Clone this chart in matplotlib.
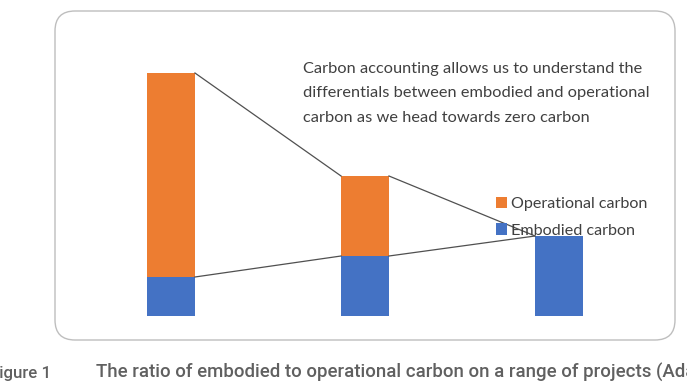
import matplotlib.pyplot as plt
from matplotlib.patches import FancyBboxPatch

projects = ['Project A', 'Project B', 'Project C']
embodied = [1.95, 3.0, 4.0]
operational = [10.2, 4.0, 0.0]
labels = ['Embodied carbon', 'Operational carbon']
note = ('Carbon accounting allows us to understand the\n'
        'differentials between embodied and operational\n'
        'carbon as we head towards zero carbon')
caption_no = 'Figure 1'
caption = 'The ratio of embodied to operational carbon on a range of projects (Adapted)'

blue = '#4472C4'
orange = '#ED7D31'
W, H = 687, 384

fig = plt.figure(figsize=(W / 100, H / 100), dpi=100)
fig.patch.set_facecolor('white')

# rounded frame of the chart, kept behind the axes
frame = FancyBboxPatch((0.55, (H - 340) / 100), 6.20, 3.29,
                       boxstyle='round,pad=0,rounding_size=0.2',
                       transform=fig.dpi_scale_trans, fc='white',
                       ec='#BEBEBE', lw=1.0, zorder=-1)
fig.patches.append(frame)

ax = fig.add_axes([74 / W, (H - 316) / H, 582 / W, 260 / H])
ax.set_xlim(-0.5, 2.5)
ax.set_ylim(0, 13)
ax.axis('off')
ax.patch.set_alpha(0)

bw = 0.247
x = range(len(projects))
ax.bar(x, embodied, bw, color=blue, label=labels[0])
ax.bar(x, operational, bw, bottom=embodied, color=orange, label=labels[1])

# connector lines between bars
totals = [e + o for e, o in zip(embodied, operational)]
for i in range(len(projects) - 1):
    for vals in (totals, embodied):
        ax.plot([i + bw / 2, i + 1 - bw / 2], [vals[i], vals[i + 1]],
                color='#505050', lw=0.9, zorder=3)

h, l = ax.get_legend_handles_labels()
leg = ax.legend(h[::-1], l[::-1], loc='upper left',
                bbox_to_anchor=(496 / W, (H - 197) / H),
                bbox_transform=fig.transFigure, frameon=False,
                handlelength=0.7, handleheight=0.7, handletextpad=0.25,
                labelspacing=0.75, borderaxespad=0, borderpad=0,
                prop={'family': 'Lato', 'size': 11.6})
for t in leg.get_texts():
    t.set_color('#404040')

fig.text(303 / W, (H - 62) / H, note, ha='left', va='top', family='Lato',
         fontsize=11.8, color='#404040', linespacing=1.95)

fig.text(51 / W, (H - 378) / H, caption_no, ha='right', va='baseline',
         family='Roboto', fontsize=12.2, color='#606060', weight='medium')
fig.text(96 / W, (H - 378) / H, caption, ha='left', va='baseline',
         family='Roboto', fontsize=13.4, color='#606060', weight='medium')

fig.savefig('out.png', dpi=100)
